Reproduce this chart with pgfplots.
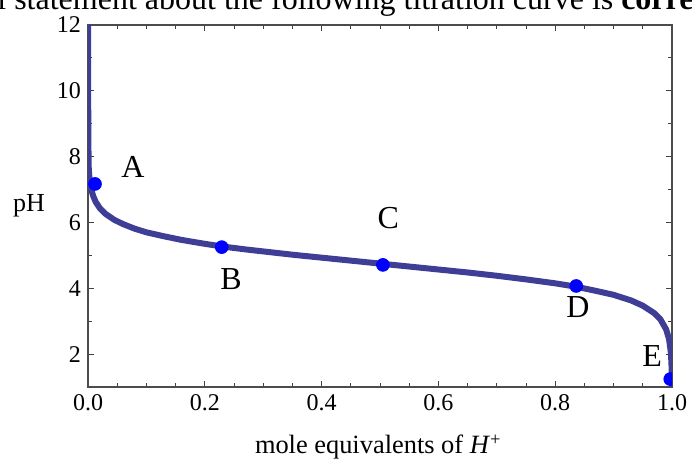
\documentclass[border=0pt]{standalone}
\usepackage{fontspec}
\setmainfont{Liberation Serif}
\usepackage{pgfplots}
\pgfplotsset{compat=1.18}
\definecolor{curvecol}{RGB}{62,62,150}
\begin{document}
\begin{tikzpicture}
\path[use as bounding box] (0,0) rectangle (346pt,230pt);
\clip (0,0) rectangle (346pt,230pt);
% question text, cut by the picture's edge as in the source
\node[anchor=base west, inner sep=0pt, font=\fontsize{16}{19}\selectfont] at (-1.5pt,225pt)
  {l statement about the following titration curve is \textbf{corre}};
\begin{axis}[
    at={(44pt,36.5pt)}, anchor=south west,
    scale only axis, width=292pt, height=181pt,
    xmin=0, xmax=1, ymin=1, ymax=12,
    xtick={0,0.2,...,1}, ytick={2,4,...,12},
    minor x tick num=3, minor y tick num=1,
    tick align=inside,
    major tick length=3pt, minor tick length=2pt,
    every tick/.style={black!75, line width=0.5pt},
    axis line style={black!70, line width=0.6pt},
    xticklabel style={/pgf/number format/fixed, /pgf/number format/fixed zerofill, /pgf/number format/precision=1},
    /pgf/number format/assume math mode=true,
    tick label style={font=\fontsize{12}{14}\selectfont},
    xlabel={mole equivalents of \textit{H}\textsuperscript{+}},
    ylabel={pH},
    every axis x label/.style={at={(axis description cs:0.497,0)}, anchor=base, yshift=-33.5pt, font=\fontsize{13.2}{15}\selectfont},
    every axis y label/.style={at={(axis description cs:0,0.5)}, anchor=center, xshift=-29.5pt, font=\fontsize{13}{15}\selectfont},
    clip marker paths=true,
]
    % titration curve
    \addplot[curvecol, line width=3pt, line join=round, line cap=round] coordinates {
        (0.0,12.0) (0.0004,9.5) (0.001,7.75) (0.002,7.45) (0.004,7.15) (0.006,6.97)
        (0.009,6.80) (0.013,6.63) (0.02,6.44) (0.03,6.26) (0.045,6.08) (0.06,5.95)
        (0.08,5.81) (0.10,5.70) (0.13,5.58) (0.16,5.47) (0.20,5.35) (0.23,5.27)
        (0.27,5.18) (0.30,5.12) (0.35,5.02) (0.40,4.93) (0.45,4.84) (0.50,4.75)
        (0.55,4.66) (0.60,4.57) (0.65,4.48) (0.70,4.38) (0.75,4.27) (0.80,4.15)
        (0.835,4.05) (0.87,3.92) (0.90,3.80) (0.93,3.63) (0.95,3.47) (0.97,3.24)
        (0.98,3.06) (0.99,2.75) (0.995,2.45) (0.998,2.05) (0.999,1.75) (0.9995,1.45)
        (0.9998,1.05) (0.9999,0.8)
    };
    % labelled points
    \addplot[only marks, mark=*, mark size=3.2pt, color=blue] coordinates {
        (0.012,7.17) (0.229,5.25) (0.505,4.71) (0.836,4.07) (0.997,1.24)
    };
    \node[font=\fontsize{16}{19}\selectfont] at (axis cs:0.077,7.68) {A};
    \node[font=\fontsize{16}{19}\selectfont] at (axis cs:0.245,4.28) {B};
    \node[font=\fontsize{16}{19}\selectfont] at (axis cs:0.514,6.13) {C};
    \node[font=\fontsize{16}{19}\selectfont] at (axis cs:0.839,3.43) {D};
    \node[font=\fontsize{16}{19}\selectfont] at (axis cs:0.966,1.94) {E};
\end{axis}
\end{tikzpicture}
\end{document}
